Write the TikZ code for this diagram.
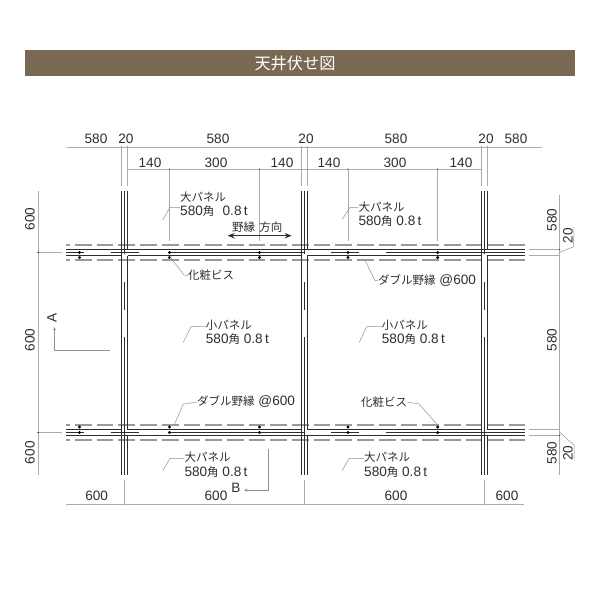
\documentclass[tikz,border=0pt]{standalone}
\usepackage{fontspec}
\setmainfont{Liberation Sans}
\newfontfamily\jp{Noto Sans CJK JP}
\usepackage{xcolor}
\usetikzlibrary{arrows,arrows.meta}
\definecolor{banner}{HTML}{7A6952}
\definecolor{inkline}{HTML}{2E2E2E}
\definecolor{dimline}{HTML}{ABABAB}
\definecolor{dashline}{HTML}{9A9A9A}
\newcommand{\num}{\fontsize{13.6}{15}\selectfont}
\newcommand{\kana}[1]{{\jp\fontsize{11.5}{13}\selectfont #1}}
\tikzset{
  frame/.style={inkline, line width=0.8pt},
  dim/.style={dimline, line width=0.6pt},
  lead/.style={dimline!85!black, line width=0.5pt},
  dashrail/.style={dashline, line width=1.2pt, dash pattern=on 16.7pt off 5pt, dash phase=12.7pt},
  numtext/.style={inner sep=0pt, text=inkline, font=\num},
  lbl/.style={inner sep=0pt, anchor=west, text=inkline, font=\num},
  dot/.style={circle, fill=black, inner sep=0pt, minimum size=3.4pt},
  dimdot/.style={circle, fill=inkline, inner sep=0pt, minimum size=1.4pt}
}
\begin{document}
\begin{tikzpicture}[x=1pt, y=-1pt]
  \useasboundingbox (0,0) rectangle (600,600);
  \fill [banner] (25,50) rectangle (575,76);
  \node (title) [inner sep=0pt, text=white] at (295,63)
    {\jp\fontsize{16.2}{18}\selectfont 天井伏せ図};

  % horizontal rails
  \foreach \y in {245,425,260,440}
    \draw [dashrail] (66,\y) -- (525,\y);
  \foreach \y in {252.5,432.5}
    \foreach \a/\b in {66/84,110.5/139,167.5/304,331/359,386/525}
      \draw [frame] (\a,\y) -- (\b,\y);
  \draw [frame] (66,249.5) -- (525,249.5);
  \draw [frame] (66,435.5) -- (525,435.5);
  \foreach \a/\b in {66/121.5,127.5/301.5,307/481.7,487.3/525} {
    \draw [frame] (\a,255.5) -- (\b,255.5);
    \draw [frame] (\a,429.5) -- (\b,429.5);
  }

  % columns
  \foreach \l/\m/\r in {121.5/124.5/127.5,301.5/304/307,481.7/484.3/487.3} {
    \draw [frame] (\l,191) -- (\l,475);
    \draw [frame] (\r,191) -- (\r,249.5);
    \draw [frame] (\r,255.5) -- (\r,429.5);
    \draw [frame] (\r,435.5) -- (\r,475);
    \draw [frame] (\m,191) -- (\m,254);
    \draw [frame] (\m,282) -- (\m,310);
    \draw [frame] (\m,337) -- (\m,475);
    \draw [dim] (\l,147) -- (\l,186);
    \draw [dim] (\r,147) -- (\r,186);
    \node [dimdot] at (\l,147) {};
    \node [dimdot] at (\r,147) {};
    \draw [dim] (\m,480) -- (\m,504.5);
    \node [dimdot] at (\m,504.5) {};
  }

  % screws
  \foreach \x in {79.5,169.5,259.5,348,437.7} {
    \node [dot] at (\x,252.5) {};
    \node [dot] at (\x,257.5) {};
    \node [dot] at (\x,427) {};
    \node [dot] at (\x,432.5) {};
  }

  % top dimensions
  \draw [dim] (67,147) -- (541.5,147);
  \draw [dim] (127.5,169) -- (481.7,169);
  \foreach \x in {169.5,259.5,348,437.7} {
    \draw [dim] (\x,169) -- (\x,241);
    \node [dimdot] at (\x,169) {};
  }
  \foreach \x/\t in {96/580,126/20,218/580,306/20,396/580,486/20,516/580}
    \node [numtext] at (\x,138.5) {\t};
  \foreach \x/\t in {150/140,216/300,282/140,329/140,395/300,461/140}
    \node [numtext] at (\x,163) {\t};

  % bottom dimensions
  \draw [dim] (66,504.5) -- (524,504.5);
  \foreach \x in {96.7,216,396,507}
    \node [numtext] at (\x,496) {600};

  % left dimensions
  \draw [dim] (38.3,191) -- (38.3,474.5);
  \foreach \y in {252.5,432.5} {
    \draw [dim] (37,\y) -- (62,\y);
    \node [dimdot] at (38.3,\y) {};
  }
  \foreach \y in {219,340,452.7}
    \node [numtext, rotate=90] at (30,\y) {600};

  % right dimensions
  \draw [dim] (559.7,195) -- (559.7,475);
  \foreach \y in {249.5,255.5,429.5,435.5}
    \draw [dim] (529,\y) -- (559.7,\y);
  \foreach \y in {249.5,435.5}
    \node [dimdot] at (559.7,\y) {};
  \foreach \y in {220,340,453}
    \node [numtext, rotate=90] at (552,\y) {580};
  \node (twentyA) [numtext, rotate=90] at (568,235.5) {20};
  \node (twentyB) [numtext, rotate=90] at (568,453) {20};
  \draw [lead] (559.7,252.3) -- (573.5,246.7) -- (574,227);
  \draw [lead] (559.7,432.3) -- (574,445) -- (574,460.7);

  % panel labels
  \node (bigA)  [lbl] at (180,197) {\kana{大パネル}};
  \node (bigAb) [lbl] at (180,211.5) {580\kana{角}\hspace{4.5pt} 0.8\,t};
  \draw [lead] (162.7,220) -- (170,207.3) -- (180,207.3);
  \node (bigB)  [lbl] at (358.3,206.7) {\kana{大パネル}};
  \node (bigBb) [lbl] at (358.3,220.7) {580\kana{角} 0.8\,t};
  \draw [lead] (342.3,219.3) -- (350,207.3) -- (358.3,207.3);
  \node (smallA)  [lbl] at (205.7,325) {\kana{小パネル}};
  \node (smallAb) [lbl] at (205.7,339.5) {580\kana{角} 0.8\,t};
  \draw [lead] (183.3,342.3) -- (191,326.7) -- (205.7,326.7);
  \node (smallB)  [lbl] at (381.7,325) {\kana{小パネル}};
  \node (smallBb) [lbl] at (381.7,339.5) {580\kana{角} 0.8\,t};
  \draw [lead] (359.3,342.3) -- (366.7,326.7) -- (381.7,326.7);
  \node (bigC)  [lbl] at (184.3,457) {\kana{大パネル}};
  \node (bigCb) [lbl] at (184.3,472) {580\kana{角} 0.8\,t};
  \draw [lead] (162.7,470.7) -- (170,458.3) -- (184.3,458.3);
  \node (bigD)  [lbl] at (364,457) {\kana{大パネル}};
  \node (bigDb) [lbl] at (364,472) {580\kana{角} 0.8\,t};
  \draw [lead] (342,470.7) -- (349.3,458.3) -- (364,458.3);

  % rail and screw labels
  \node (dir) [lbl] at (232,227) {\kana{野縁\hspace{1.5pt} 方向}};
  \draw [{Stealth[length=7pt,width=5.5pt]}-{Stealth[length=7pt,width=5.5pt]}, inkline, line width=1.1pt] (227.7,235.7) -- (291.7,235.7);
  \node (screwA) [lbl] at (188,275.5) {\kana{化粧ビス}};
  \draw [lead] (170,256.7) -- (184,275) -- (screwA.west);
  \node (screwB) [lbl] at (361,402) {\kana{化粧ビス}};
  \draw [lead] (437.7,425) -- (419,404) -- (screwB.east);
  \node (railA) [lbl] at (378,280.5) {\kana{ダブル野縁} @600};
  \draw [lead] (365,260) -- (375,280.7) -- (railA.west);
  \node (railB) [lbl] at (197,402) {\kana{ダブル野縁} @600};
  \draw [lead] (174.3,424.7) -- (183.3,404) -- (railB.west);

  % section marks
  \node (markA) [numtext, rotate=90] at (52,318) {A};
  \draw [->, >=stealth, lead] (110,350.5) -- (54.5,350.5) -- (54.5,327);
  \node (markB) [numtext] at (236,488) {B};
  \draw [->, >=stealth, lead] (268,449) -- (268,490) -- (244,490);
\end{tikzpicture}
\end{document}
